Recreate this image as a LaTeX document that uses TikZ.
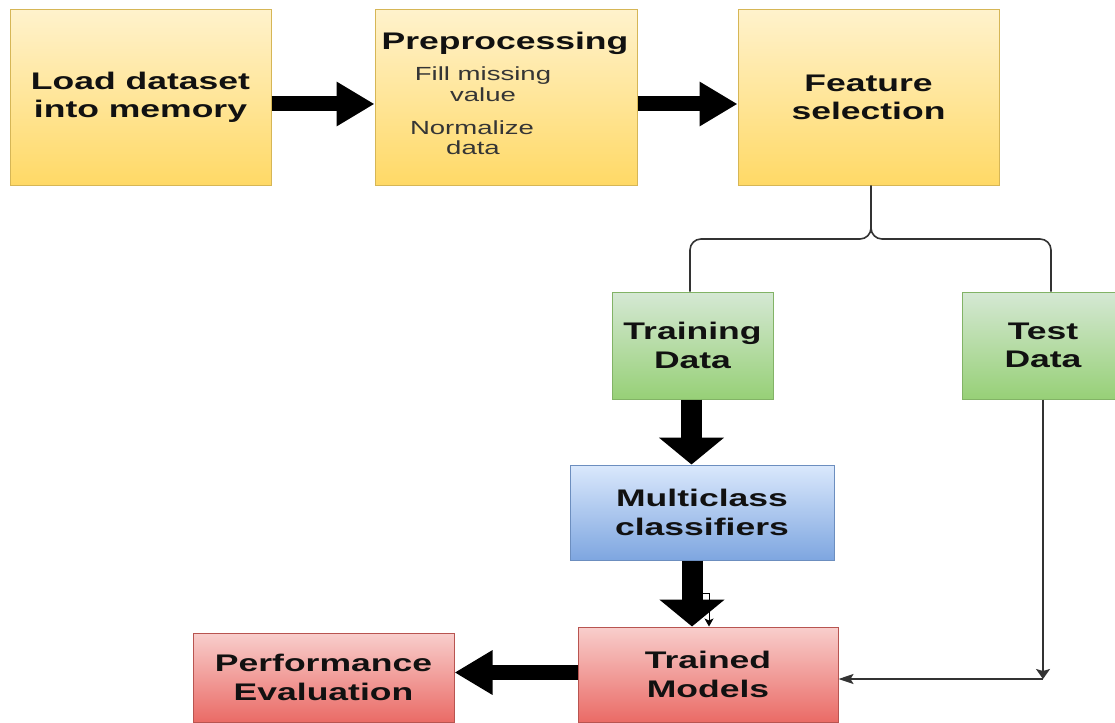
\documentclass[tikz,border=0pt]{standalone}
\usepackage{fontspec}
\setmainfont{Liberation Sans}
\newfontfamily\sx{Liberation Sans}[FakeStretch=1.48]
\newfontfamily\sxs{Liberation Sans}[FakeStretch=1.45]
\usetikzlibrary{arrows.meta}
\definecolor{yA}{HTML}{FFF2CC}
\definecolor{yB}{HTML}{FFD966}
\definecolor{yD}{HTML}{D6B656}
\definecolor{gA}{HTML}{D5E8D4}
\definecolor{gB}{HTML}{97D077}
\definecolor{gD}{HTML}{82B366}
\definecolor{bA}{HTML}{DAE8FC}
\definecolor{bB}{HTML}{7EA6E0}
\definecolor{bD}{HTML}{6C8EBF}
\definecolor{rA}{HTML}{F8CECC}
\definecolor{rB}{HTML}{EA6B66}
\definecolor{rD}{HTML}{B85450}
\definecolor{ink}{HTML}{111111}
\definecolor{lne}{HTML}{333333}
\begin{document}
\begin{tikzpicture}[x=1pt,y=-1pt,
  box/.style={rectangle, inner sep=0pt, line width=1pt, align=center, text=ink,
    font=\sx\bfseries\fontsize{24}{28.5}\selectfont},
  ybox/.style={box, top color=yA, bottom color=yB, draw=yD},
  gbox/.style={box, top color=gA, bottom color=gB, draw=gD},
  bbox/.style={box, top color=bA, bottom color=bB, draw=bD},
  rbox/.style={box, top color=rA, bottom color=rB, draw=rD},
  btxt/.style={inner sep=0pt, text=ink, font=\sx\bfseries\fontsize{24}{28.5}\selectfont},
  stxt/.style={inner sep=0pt, text=ink!85, font=\sxs\fontsize{19}{21}\selectfont},
  hthick/.style={line width=15pt, -{Triangle[length=38pt,width=42pt]}},
  vthick/.style={line width=21pt, -{Triangle[length=27pt,width=64pt]}},
  conn/.style={line width=1.6pt, draw=lne},
  harr/.style={conn, -{Stealth[length=15pt,width=10pt,inset=3pt]}},
  varr/.style={conn, -{Stealth[length=10pt,width=14pt,inset=2pt]}},
]
\useasboundingbox (0,0) rectangle (1115,722);

% boxes
\node[ybox, minimum width=261pt, minimum height=175pt] (load) at (140.5,97.5) {Load dataset\\into memory};
\node[ybox, minimum width=262pt, minimum height=175pt] (pre) at (506,97.5) {};
\node[ybox, minimum width=261pt, minimum height=175pt] (fs) at (868.5,97.5) {Feature\\selection};
\node[gbox, minimum width=161pt, minimum height=107pt] (train) at (692.5,345.5) {Training\\Data};
\node[gbox, minimum width=162pt, minimum height=107pt] (test) at (1043,345.5) {Test\\Data};
\node[bbox, minimum width=264pt, minimum height=95pt] (mc) at (702,512.5) {Multiclass\\classifiers};
\node[rbox, minimum width=260pt, minimum height=95pt] (tm) at (708,674.5) {Trained\\Models};
\node[rbox, minimum width=261pt, minimum height=89pt] (pe) at (323.5,677.5) {Performance\\Evaluation};

% preprocessing texts
\node[btxt, anchor=base] (ptitle) at (505,50) {Preprocessing};
\node[stxt, anchor=base] (pfill) at (483,81) {Fill missing};
\node[stxt, anchor=base] (pval) at (483,102) {value};
\node[stxt, anchor=base] (pnorm) at (472,135) {Normalize};
\node[stxt, anchor=base] (pdata) at (473,155) {data};

% thick arrows
\draw[hthick] ([yshift=-6.5pt]load.east) -- ([yshift=-6.5pt]pre.west);
\draw[hthick] ([yshift=-6.5pt]pre.east) -- ([yshift=-6.5pt]fs.west);
\draw[vthick] ([xshift=-1pt]train.south) -- ([xshift=-1pt]train.south |- mc.north);
\coordinate (mcx) at ([xshift=-10pt]mc.south);
\draw[vthick] (mcx) -- (mcx |- tm.north);
\draw[hthick] ([yshift=2pt]tm.west) -- ([yshift=2pt]tm.west -| pe.east);

% small stray connector
\coordinate (sa) at (701,593);
\coordinate (sb) at (709,593);
\draw[line width=1pt, -{Stealth[length=8pt,width=9pt,inset=2pt]}] (sa) -- (sb) -- (sb |- tm.north);

% brace split
\coordinate (bj) at (871,239);
\coordinate (tl) at ([xshift=-2.5pt]train.north);
\coordinate (tr) at ([xshift=8pt]test.north);
\draw[conn, rounded corners=11pt] ([xshift=2.5pt]fs.south) -- (bj) -- (tl |- bj) -- (tl);
\draw[conn, rounded corners=11pt] ([xshift=2.5pt]fs.south) -- (bj) -- (tr |- bj) -- (tr);

% test data to trained models
\coordinate (tj) at (1043,679);
\draw[varr] (test.south) -- (tj);
\draw[harr] (tj) -- (tj -| tm.east);
\end{tikzpicture}
\end{document}
